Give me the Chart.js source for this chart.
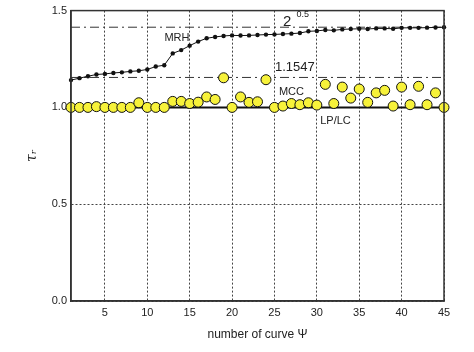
<!DOCTYPE html>
<html>
<head>
<meta charset="utf-8">
<script src="https://cdn.jsdelivr.net/npm/chart.js@4/dist/chart.umd.min.js"></script>
<style>
  html, body { margin: 0; padding: 0; background: #fff; }
  #wrap { width: 474px; height: 352px; }
</style>
</head>
<body>
<div id="wrap"><canvas id="tauChart" width="474" height="352"></canvas></div>
<script>
// curve numbers on the x axis
var curveNumbers = [1, 2, 3, 4, 5, 6, 7, 8, 9, 10, 11, 12, 13, 14, 15, 16, 17, 18, 19, 20, 21, 22, 23,
  24, 25, 26, 27, 28, 29, 30, 31, 32, 33, 34, 35, 36, 37, 38, 39, 40, 41, 42, 43, 44, 45];

// MRH (small black dots joined by a line)
var mrh = [1.141, 1.151, 1.161, 1.170, 1.173, 1.178, 1.181, 1.186, 1.189, 1.196, 1.211, 1.218,
  1.279, 1.296, 1.319, 1.340, 1.357, 1.364, 1.369, 1.372, 1.371, 1.372, 1.374, 1.376, 1.377,
  1.379, 1.381, 1.384, 1.393, 1.395, 1.400, 1.398, 1.403, 1.405, 1.406, 1.405, 1.408, 1.408,
  1.406, 1.411, 1.411, 1.411, 1.412, 1.413, 1.414];

// MCC (yellow circles)
var mcc = [1.000, 1.000, 1.000, 1.004, 1.000, 1.000, 1.000, 1.000, 1.024, 1.000, 1.000, 1.000,
  1.031, 1.031, 1.020, 1.027, 1.054, 1.041, 1.153, 1.000, 1.054, 1.026, 1.029, 1.143, 1.000,
  1.007, 1.020, 1.014, 1.024, 1.012, 1.119, 1.020, 1.105, 1.048, 1.095, 1.026, 1.075, 1.088,
  1.007, 1.105, 1.014, 1.109, 1.014, 1.075, 1.000];

// LP/LC level and the two reference levels
var lpLc = 1.0;
var refLevels = [Math.SQRT2, 1.1547];

var xTicks = [5, 10, 15, 20, 25, 30, 35, 40, 45];
var yTicks = [0.0, 0.5, 1.0, 1.5];

function pts(vals) {
  return curveNumbers.map(function(n, i) { return {x: n, y: vals[i]}; });
}
function flat(v) {
  return [{x: curveNumbers[0], y: v}, {x: curveNumbers[curveNumbers.length - 1], y: v}];
}

var FONT = "'Liberation Sans', Arial, sans-serif";
var INK = "#222";

// labels written next to the curves
var notes = [
  {text: "MRH", x: 13.5, y: 1.342, size: 11},
  {text: "2", x: 26.5, y: 1.418, size: 15},
  {text: "0.5", x: 27.6, y: 1.469, size: 9, align: "left"},
  {text: "1.1547", x: 27.4, y: 1.189, size: 13},
  {text: "MCC", x: 27.0, y: 1.064, size: 11},
  {text: "LP/LC", x: 32.2, y: 0.913, size: 11}
];

var notesPlugin = {
  id: "notes",
  afterDatasetsDraw: function(chart) {
    var ctx = chart.ctx, xs = chart.scales.x, ys = chart.scales.y;
    ctx.save();
    ctx.fillStyle = INK;
    ctx.textBaseline = "alphabetic";
    notes.forEach(function(n) {
      ctx.font = n.size + "px " + FONT;
      ctx.textAlign = n.align || "center";
      ctx.fillText(n.text, xs.getPixelForValue(n.x), ys.getPixelForValue(n.y));
    });
    ctx.restore();
  },
  afterDraw: function(chart) {
    // box round the plot
    var a = chart.chartArea, ctx = chart.ctx;
    ctx.save();
    ctx.strokeStyle = "#333";
    ctx.lineWidth = 1.5;
    ctx.strokeRect(a.left, a.top, a.right - a.left, a.bottom - a.top);
    ctx.restore();
  }
};

var dashDot = [9, 4, 2, 4];

new Chart(document.getElementById("tauChart"), {
  type: "line",
  data: {
    datasets: [
      {
        label: "MCC",
        data: pts(mcc),
        showLine: false,
        pointRadius: 5,
        pointBackgroundColor: "#f7f23a",
        pointBorderColor: "#111",
        pointBorderWidth: 1,
        clip: false
      },
      {
        label: "MRH",
        data: pts(mrh),
        borderColor: "#111",
        borderWidth: 1,
        pointRadius: 2.2,
        pointBackgroundColor: "#111",
        pointBorderColor: "#111",
        pointBorderWidth: 0,
        clip: false
      },
      {
        label: "LP/LC",
        data: flat(lpLc),
        borderColor: "#111",
        borderWidth: 2,
        pointRadius: 0
      },
      {
        label: "sqrt2",
        data: flat(refLevels[0]),
        borderColor: "#333",
        borderWidth: 1,
        borderDash: dashDot,
        pointRadius: 0
      },
      {
        label: "1.1547",
        data: flat(refLevels[1]),
        borderColor: "#333",
        borderWidth: 1,
        borderDash: dashDot,
        pointRadius: 0
      }
    ]
  },
  options: {
    responsive: false,
    animation: false,
    events: [],
    layout: { padding: { top: 7, right: 30, left: 0, bottom: 0 } },
    plugins: {
      legend: { display: false },
      tooltip: { enabled: false }
    },
    scales: {
      x: {
        type: "linear",
        min: 1,
        max: 45,
        afterBuildTicks: function(s) { s.ticks = xTicks.map(function(v) { return {value: v}; }); },
        afterFit: function(s) { s.height = 51; },
        grid: { color: "#444", lineWidth: 1, drawTicks: false },
        border: { color: "#333", width: 1.5, dash: [2, 2] },
        ticks: { color: INK, font: { family: FONT, size: 11 }, padding: 5, maxRotation: 0 },
        title: { display: true, text: "number of curve \u03a8", color: INK,
                 font: { family: FONT, size: 12 }, padding: { top: 0, bottom: 10 } }
      },
      y: {
        min: 0,
        max: 1.5,
        afterBuildTicks: function(s) { s.ticks = yTicks.map(function(v) { return {value: v}; }); },
        afterFit: function(s) { s.width = 71; },
        grid: { color: "#444", lineWidth: 1, drawTicks: false },
        border: { color: "#333", width: 1.5, dash: [2, 2] },
        ticks: { color: INK, font: { family: FONT, size: 11 }, padding: 4,
                 callback: function(v) { return Number(v).toFixed(1); } },
        title: { display: true, text: "\u03c4\u1d63", color: INK,
                 font: { family: "'DejaVu Serif', serif", size: 14, style: "italic" },
                 padding: { top: 24, bottom: 0 } }
      }
    }
  },
  plugins: [notesPlugin]
});
</script>
</body>
</html>
